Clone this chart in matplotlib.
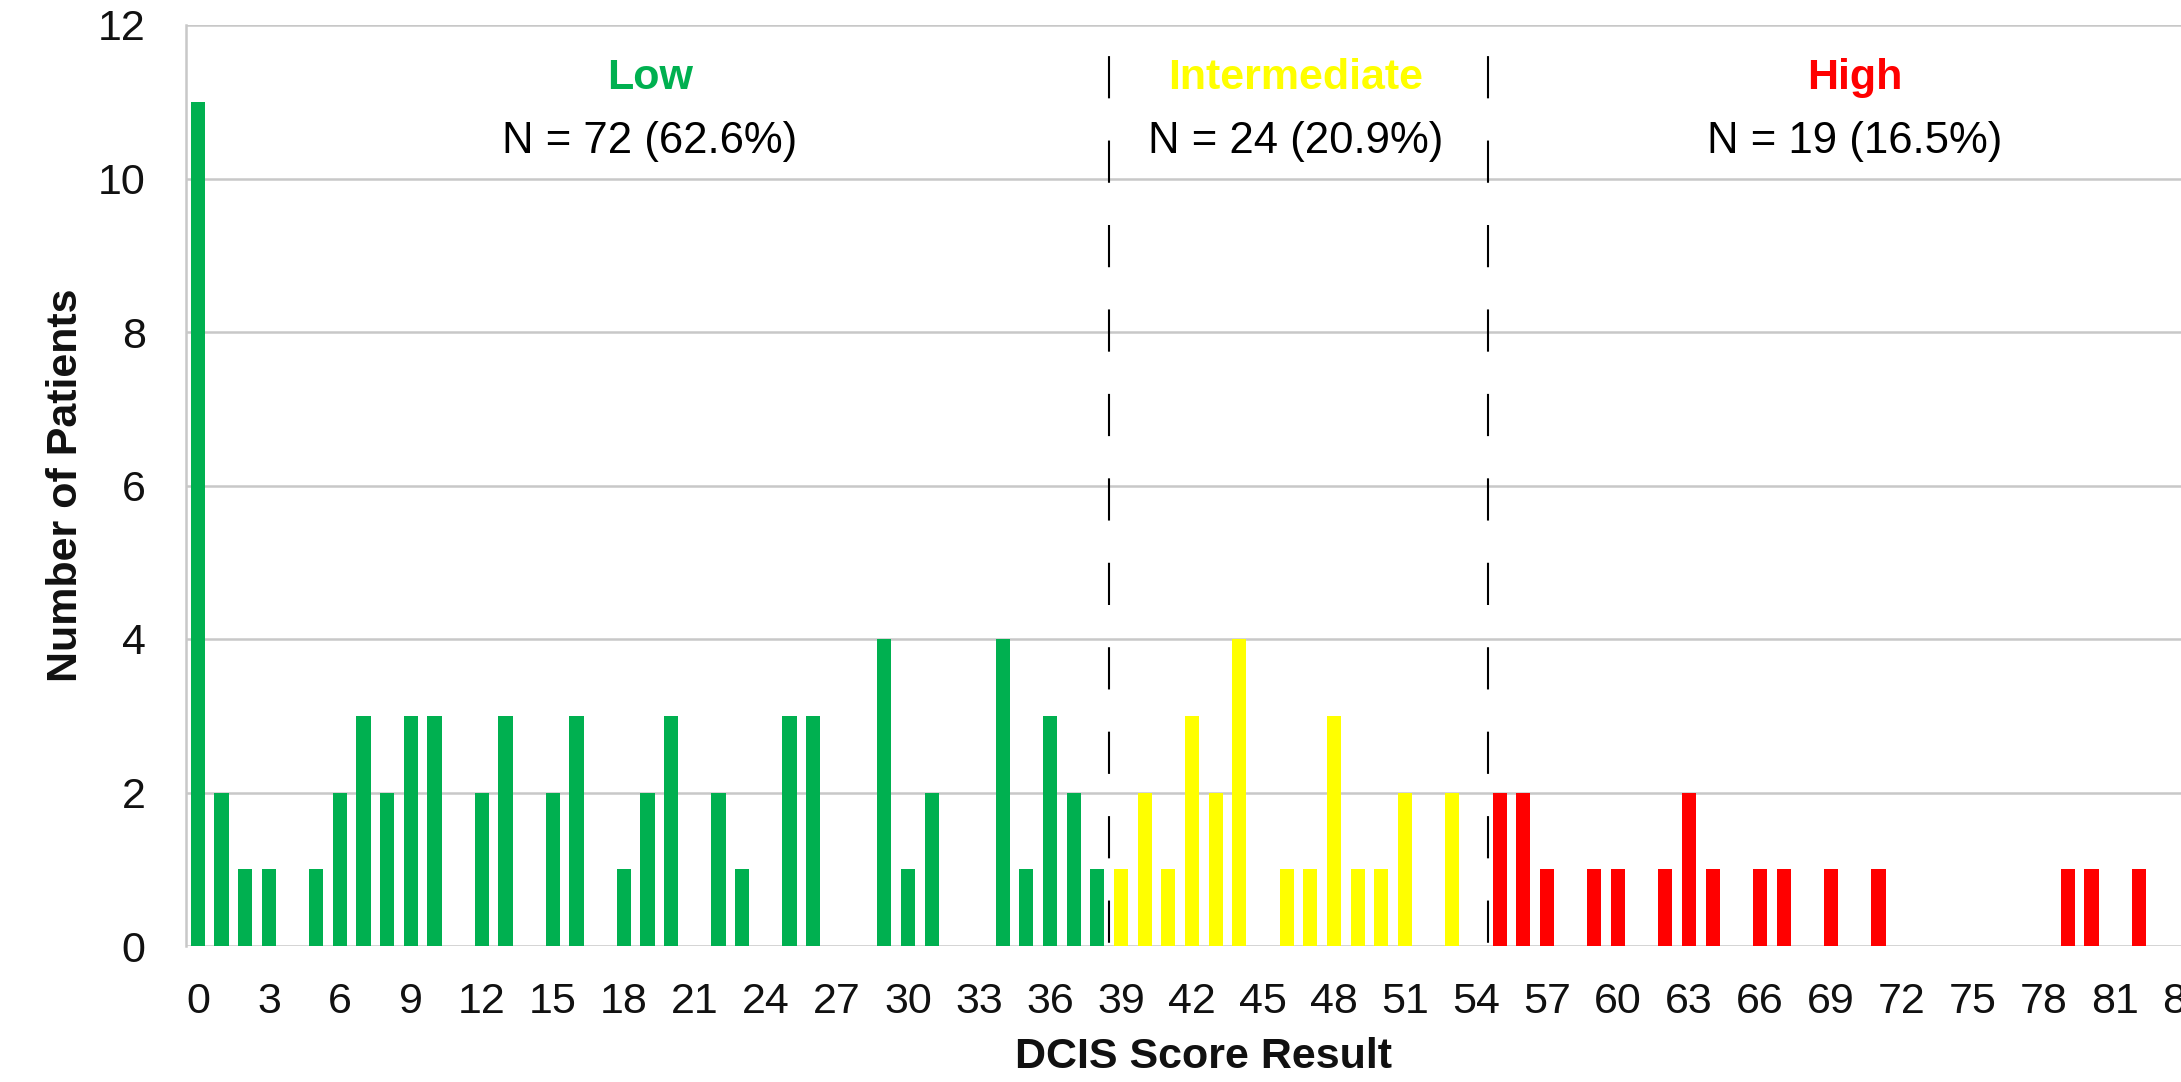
import matplotlib
matplotlib.use("Agg")
import matplotlib.pyplot as plt

plt.rcParams["font.family"] = ["Liberation Sans", "DejaVu Sans"]
plt.rcParams["lines.scale_dashes"] = False

GREEN = '#00b050'
YELLOW = '#ffff00'
RED = '#ff0000'
GRID = '#c8c8c8'

# DCIS score -> number of patients, per risk group
low_scores = [0, 1, 2, 3, 5, 6, 7, 8, 9, 10, 12, 13, 15, 16, 18, 19, 20,
              22, 23, 25, 26, 29, 30, 31, 34, 35, 36, 37, 38]
low_counts = [11, 2, 1, 1, 1, 2, 3, 2, 3, 3, 2, 3, 2, 3, 1, 2, 3,
              2, 1, 3, 3, 4, 1, 2, 4, 1, 3, 2, 1]

mid_scores = [39, 40, 41, 42, 43, 44, 46, 47, 48, 49, 50, 51, 53]
mid_counts = [1, 2, 1, 3, 2, 4, 1, 1, 3, 1, 1, 2, 2]

high_scores = [55, 56, 57, 59, 60, 62, 63, 64, 66, 67, 69, 71, 79, 80, 82]
high_counts = [2, 2, 1, 1, 1, 1, 2, 1, 1, 1, 1, 1, 1, 1, 1]

cutoffs = [38.5, 54.5]
group_names = ['Low', 'Intermediate', 'High']
group_colors = [GREEN, YELLOW, RED]
group_n = ['N = 72 (62.6%)', 'N = 24 (20.9%)', 'N = 19 (16.5%)']
group_x = [19.1, 46.4, 70.0]

x_ticks = list(range(0, 85, 3))
y_ticks = list(range(0, 13, 2))

W, H = 2181, 1082
fig = plt.figure(figsize=(W / 100, H / 100), dpi=100)

x_lo, x_hi = -0.5, 90.5
step_px = 23.67
ax_left = 186 / W
ax_width = (x_hi - x_lo) * step_px / W
ax_bottom = 1 - 946 / H
ax_height = (946 - 25) / H
ax = fig.add_axes([ax_left, ax_bottom, ax_width, ax_height])

ax.bar(low_scores, low_counts, width=0.6, color=GREEN, zorder=3)
ax.bar(mid_scores, mid_counts, width=0.6, color=YELLOW, zorder=3)
ax.bar(high_scores, high_counts, width=0.6, color=RED, zorder=3)

# dashed cut-off lines between the risk groups
for c in cutoffs:
    ax.plot([c, c], [12, 0], color='black', linewidth=1.5,
            linestyle=(38.4, (30.4, 30.4)), zorder=4, clip_on=False)

ax.set_xlim(x_lo, x_hi)
ax.set_ylim(0, 12)
ax.set_xticks(x_ticks)
ax.set_yticks(y_ticks)
ax.tick_params(axis='both', length=0, labelsize=31, colors='#111111')
ax.tick_params(axis='y', pad=29)
ax.tick_params(axis='x', pad=26)

ax.grid(True, axis='y', color=GRID, linewidth=1.8, zorder=0)
ax.set_axisbelow(True)
for side in ['top', 'right', 'bottom']:
    ax.spines[side].set_visible(False)
ax.spines['left'].set_color(GRID)
ax.spines['left'].set_linewidth(1.8)

ax.set_ylabel('Number of Patients', fontsize=31, fontweight='bold', color='#111111')
ax.yaxis.set_label_coords(-0.0464, 0.5)
ax.set_xlabel('DCIS Score Result', fontsize=31, fontweight='bold', color='#111111')
ax.xaxis.set_label_coords(0.4726, -0.0986)

for name, col, n, gx in zip(group_names, group_colors, group_n, group_x):
    ax.text(gx, 11.31, name, color=col, fontsize=31, fontweight='bold',
            ha='center', va='center')
    ax.text(gx, 10.48, n, color='black', fontsize=31.5, ha='center', va='center')

fig.savefig('out.png', dpi=100, facecolor='white')
